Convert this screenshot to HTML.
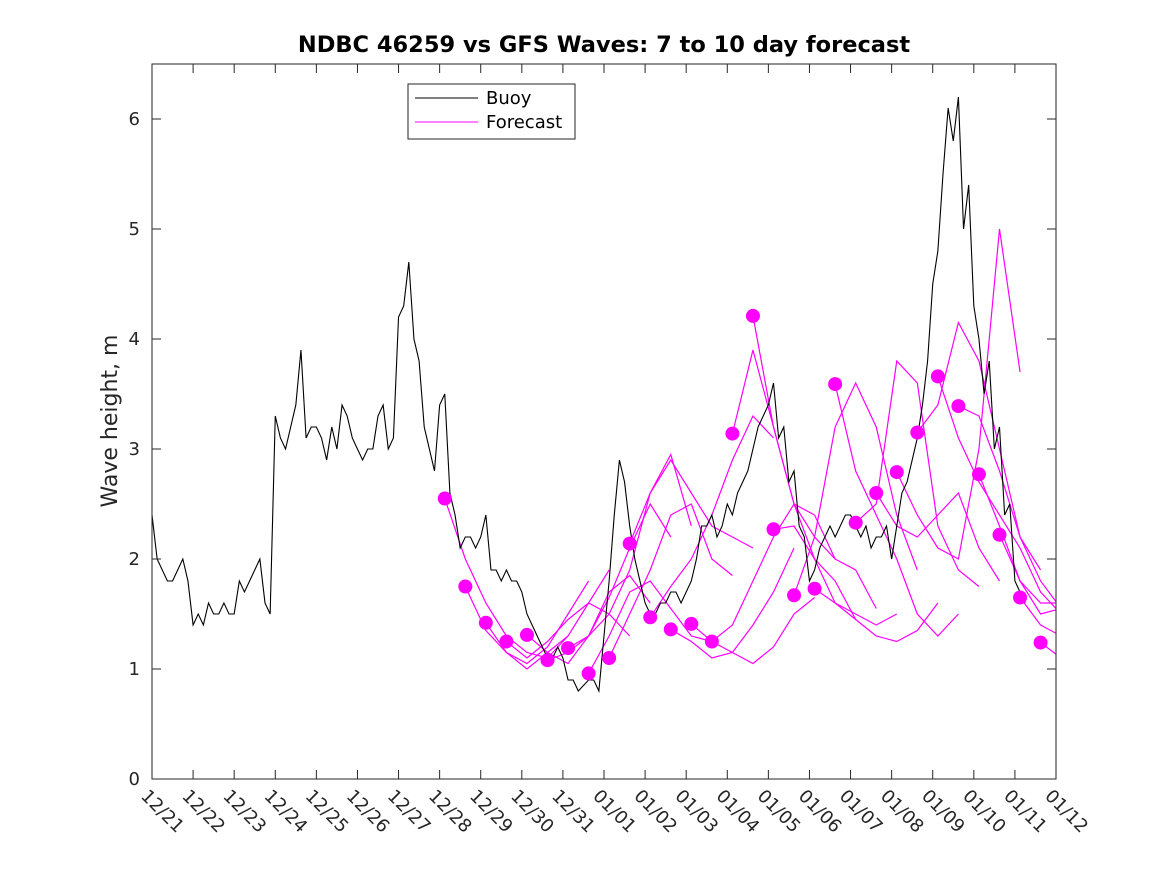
<!DOCTYPE html>
<html><head><meta charset="utf-8"><style>
body{margin:0;background:#fff;}
svg{font-family:"DejaVu Sans","Liberation Sans",sans-serif;}
</style></head><body>
<svg id="c" width="1167" height="875"></svg>
<script>
const buoy = [2.4,2.0,1.9,1.8,1.8,1.9,2.0,1.8, 1.4,1.5,1.4,1.6,1.5,1.5,1.6,1.5, 1.5,1.8,1.7,1.8,1.9,2.0,1.6,1.5,
3.3,3.1,3.0,3.2,3.4,3.9,3.1,3.2, 3.2,3.1,2.9,3.2,3.0,3.4,3.3,3.1, 3.0,2.9,3.0,3.0,3.3,3.4,3.0,3.1,
4.2,4.3,4.7,4.0,3.8,3.2,3.0,2.8, 3.4,3.5,2.6,2.4,2.1,2.2,2.2,2.1, 2.2,2.4,1.9,1.9,1.8,1.9,1.8,1.8,
1.7,1.5,1.4,1.3,1.2,1.1,1.1,1.2, 1.1,0.9,0.9,0.8,0.85,0.9,0.9,0.8, 1.3,1.8,2.4,2.9,2.7,2.3,2.0,1.8,
1.6,1.5,1.5,1.6,1.6,1.7,1.7,1.6, 1.7,1.8,2.0,2.3,2.3,2.4,2.2,2.3, 2.5,2.4,2.6,2.7,2.8,3.0,3.2,3.3,
3.4,3.6,3.1,3.2,2.7,2.8,2.3,2.2, 1.8,1.9,2.1,2.2,2.3,2.2,2.3,2.4, 2.4,2.3,2.2,2.3,2.1,2.2,2.2,2.3,
2.0,2.3,2.6,2.7,2.9,3.1,3.4,3.8, 4.5,4.8,5.5,6.1,5.8,6.2,5.0,5.4, 4.3,4.0,3.5,3.8,3.0,3.2,2.4,2.5,
1.8,1.7,1.6];
const buoyStepDays = 0.125;
const fcStart = 7.125;
const fcSpacing = 0.5;
const fcStepDays = 0.5;
const forecasts = [
[2.55,2.0,1.6,1.3,1.15,1.1,1.3],
[1.75,1.35,1.15,1.05,1.2,1.5,1.8],
[1.42,1.15,1.0,1.15,1.3,1.6,1.9],
[1.25,1.1,1.25,1.45,1.6,1.5,1.3],
[1.31,1.15,1.05,1.3,1.7,1.85,1.6],
[1.08,1.15,1.3,1.65,2.1,2.5,2.2],
[1.19,1.3,1.5,1.9,2.6,2.95,2.3],
[0.96,1.3,1.7,1.8,1.55,1.3,1.25],
[1.10,1.5,1.9,2.4,2.5,2.0,1.85],
[2.14,2.6,2.9,2.6,2.3,2.2,2.1],
[1.47,1.75,2.0,2.4,2.9,3.3,3.1],
[1.36,1.25,1.1,1.15,1.4,1.7,2.1],
[1.41,1.25,1.15,1.05,1.2,1.5,1.65],
[1.25,1.4,1.8,2.2,2.5,2.4,2.0],
[3.14,3.9,3.2,2.5,2.0,1.8,1.45],
[4.21,3.2,2.5,2.2,2.0,1.9,1.55],
[2.27,2.3,2.0,1.6,1.5,1.4,1.5],
[1.67,2.2,3.2,3.6,3.2,2.4,1.9],
[1.73,1.6,1.45,1.3,1.25,1.35,1.6],
[3.59,2.8,2.4,2.0,1.5,1.3,1.5],
[2.33,2.5,3.8,3.6,2.3,1.9,1.75],
[2.60,2.3,2.2,2.4,2.6,2.1,1.8],
[2.79,2.4,2.1,2.0,3.0,5.0,3.7],
[3.15,3.4,4.15,3.8,3.0,2.2,1.9],
[3.66,3.1,2.7,2.4,2.1,1.7,1.5],
[3.39,3.3,2.8,2.2,1.8,1.55,1.6],
[2.77,2.3,1.8,1.5,1.55,1.7,2.15],
[2.22,1.8,1.6,1.6,1.7],
[1.65,1.4,1.3,1.4],
[1.24,1.1,1.2]
];
const xTicks = ["12/21","12/22","12/23","12/24","12/25","12/26","12/27","12/28","12/29","12/30","12/31","01/01","01/02","01/03","01/04","01/05","01/06","01/07","01/08","01/09","01/10","01/11","01/12"];
const yTicks = [0,1,2,3,4,5,6];
const L=152,R=1056,T=64,B=779,YMAX=6.5,DAYS=22;
const sx=d=>L+(R-L)*d/DAYS, sy=v=>B-(B-T)*v/YMAX;
const NS="http://www.w3.org/2000/svg", svg=document.getElementById('c');
function mk(tag,at,parent){const e=document.createElementNS(NS,tag);for(const k in at)e.setAttribute(k,at[k]);(parent||svg).appendChild(e);return e;}
const defs=mk('defs',{});const cp=mk('clipPath',{id:'clip'},defs);mk('rect',{x:L,y:T,width:R-L,height:B-T},cp);
const bg=mk('rect',{x:L,y:T,width:R-L,height:B-T,fill:'#fff'});


const plot=mk('g',{'clip-path':'url(#clip)'});


forecasts.forEach((f,k)=>{
  const t0=fcStart+fcSpacing*k;
  const p=mk('polyline',{points:f.map((v,i)=>sx(t0+i*fcStepDays)+','+sy(v)).join(' '),fill:'none',stroke:'#ff00ff','stroke-width':1.2},plot);
  
  
});
const bl=mk('polyline',{points:buoy.map((v,i)=>sx(i*buoyStepDays)+','+sy(v)).join(' '),fill:'none',stroke:'#000','stroke-width':1.1},plot);


forecasts.forEach((f,k)=>{
  const d=mk('circle',{cx:sx(fcStart+fcSpacing*k),cy:sy(f[0]),r:7,fill:'#ff00ff'},plot);
  
  
});
const fr=mk('rect',{x:L,y:T,width:R-L,height:B-T,fill:'none',stroke:'#262626','stroke-width':1});


yTicks.forEach(v=>{
  const y=sy(v);
  mk('line',{x1:L,x2:L+9,y1:y,y2:y,stroke:'#262626'});mk('line',{x1:R-9,x2:R,y1:y,y2:y,stroke:'#262626'});
  const t=mk('text',{x:L-12,y:y+6,'text-anchor':'end','font-size':18,fill:'#262626'});t.textContent=v;
  
  
});
xTicks.forEach((s,i)=>{
  const x=sx(i);
  mk('line',{x1:x,x2:x,y1:B,y2:B-9,stroke:'#262626'});mk('line',{x1:x,x2:x,y1:T,y2:T+9,stroke:'#262626'});
  const t=mk('text',{x:x-12,y:B+18,'font-size':18,fill:'#262626',transform:`rotate(45 ${x-12} ${B+18})`});t.textContent=s;
  
  
});
const ti=mk('text',{x:604,y:52,'text-anchor':'middle','font-size':22.5,'font-weight':'bold',fill:'#000'});ti.textContent='NDBC 46259 vs GFS Waves: 7 to 10 day forecast';


const yl=mk('text',{x:117,y:421,'text-anchor':'middle','font-size':22,fill:'#262626',transform:'rotate(-90 117 421)'});yl.textContent='Wave height, m';


const lg=mk('g',{});


mk('rect',{x:408,y:84,width:167,height:55,fill:'#fff',stroke:'#262626'},lg);
mk('line',{x1:415,x2:478,y1:98,y2:98,stroke:'#000'},lg);
mk('line',{x1:415,x2:478,y1:122,y2:122,stroke:'#ff00ff'},lg);
const t1=mk('text',{x:486,y:104,'font-size':18,fill:'#000'},lg);t1.textContent='Buoy';


const t2=mk('text',{x:486,y:128,'font-size':18,fill:'#000'},lg);t2.textContent='Forecast';


</script>
</body></html>
